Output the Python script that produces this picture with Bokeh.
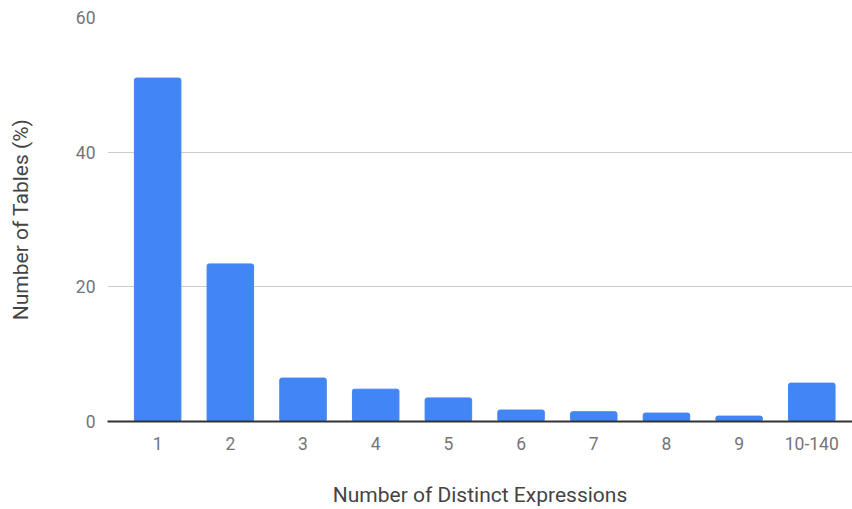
from bokeh.plotting import figure
from bokeh.models import ColumnDataSource, Range1d, FixedTicker
from bokeh.embed import file_html
from bokeh.resources import INLINE

categories = ["1", "2", "3", "4", "5", "6", "7", "8", "9", "10-140"]
values = [51.0, 23.4, 6.45, 4.8, 3.5, 1.7, 1.45, 1.25, 0.8, 5.7]
y_ticks = [0, 20, 40, 60]

xpos = [i + 0.5 for i in range(len(categories))]
src = ColumnDataSource(dict(x=xpos, val=values))

p = figure(x_range=Range1d(-0.19, len(categories) + 0.06), y_range=Range1d(0, 60),
           width=852, height=509,
           output_backend="svg", toolbar_location=None,
           min_border_left=107, min_border_right=0, min_border_top=17, min_border_bottom=88)
p.outline_line_color = None
p.background_fill_color = "white"
p.border_fill_color = "white"

p.vbar(x="x", top="val", width=0.64, source=src, color="#4285F4", border_radius=2)

p.xgrid.grid_line_color = None
p.ygrid.grid_line_color = "#cccccc"
p.ygrid.grid_line_width = 1
p.yaxis.ticker = FixedTicker(ticks=y_ticks)
p.xaxis.ticker = FixedTicker(ticks=xpos)
p.xaxis.major_label_overrides = {x: c for x, c in zip(xpos, categories)}

p.yaxis.axis_line_color = None
p.yaxis.major_tick_line_color = None
p.yaxis.minor_tick_line_color = None
p.yaxis.major_label_standoff = 6
p.yaxis.major_label_text_font = "Roboto"
p.yaxis.major_label_text_font_size = "17.5px"
p.yaxis.major_label_text_color = "#757575"
p.yaxis.axis_label = "Number of Tables (%)"
p.yaxis.axis_label_text_font = "Roboto"
p.yaxis.axis_label_text_font_size = "21px"
p.yaxis.axis_label_text_font_style = "normal"
p.yaxis.axis_label_text_color = "#444444"
p.yaxis.axis_label_standoff = 40

p.xaxis.axis_line_color = "#333333"
p.xaxis.axis_line_width = 2
p.xaxis.major_tick_line_color = None
p.xaxis.minor_tick_line_color = None
p.xaxis.major_label_standoff = 9
p.xaxis.major_label_text_font = "Roboto"
p.xaxis.major_label_text_font_size = "17.5px"
p.xaxis.major_label_text_color = "#757575"
p.xaxis.axis_label = "Number of Distinct Expressions"
p.xaxis.axis_label_text_font = "Roboto"
p.xaxis.axis_label_text_font_size = "21px"
p.xaxis.axis_label_text_font_style = "normal"
p.xaxis.axis_label_text_color = "#444444"
p.xaxis.axis_label_standoff = 30

open("out.html", "w").write(file_html(p, INLINE))
